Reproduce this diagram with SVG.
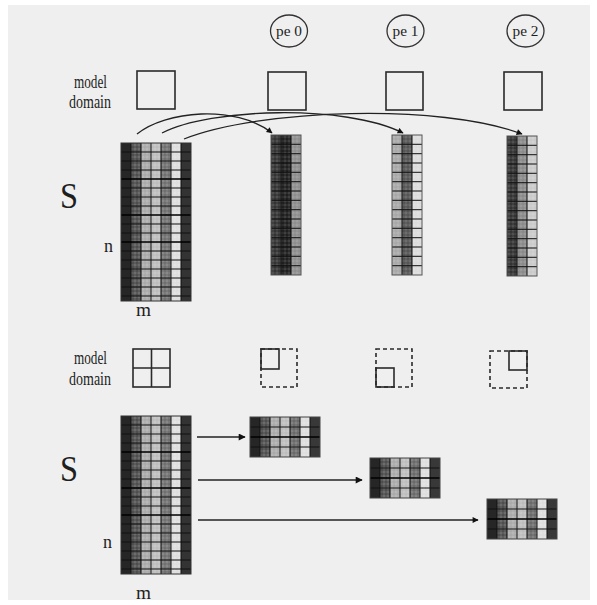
<svg xmlns="http://www.w3.org/2000/svg" xmlns:xlink="http://www.w3.org/1999/xlink" width="597" height="605" viewBox="0 0 597 605">
  <style>
    .lbl { font-family: "Liberation Serif", "Times New Roman", serif; fill: #1e1e1e; }
    .dom { fill: none; stroke: #2a2a2a; stroke-width: 1.6; }
    .dash { fill: none; stroke: #2a2a2a; stroke-width: 1.6; stroke-dasharray: 4 3; }
    .pe { fill: none; stroke: #333; stroke-width: 1.3; }
    .grid { fill: none; stroke: #111; stroke-width: 1; }
    .gridb { fill: none; stroke: #000; stroke-width: 1.6; }
    .conn { fill: none; stroke: #222; stroke-width: 1.3; }
  </style>
  <defs>
    <marker id="ah" viewBox="0 0 10 10" refX="9" refY="5" markerWidth="7" markerHeight="6" orient="auto" markerUnits="userSpaceOnUse">
      <path d="M0,0 L10,5 L0,10 z" fill="#111"/>
    </marker>
    <marker id="ahb" viewBox="0 0 10 10" refX="9" refY="5" markerWidth="9" markerHeight="7" orient="auto" markerUnits="userSpaceOnUse">
      <path d="M0,0 L10,5 L0,10 z" fill="#111"/>
    </marker>
    <!-- halftone texture laid over the shaded cells -->
    <pattern id="dots" width="4" height="4" patternUnits="userSpaceOnUse">
      <circle cx="2" cy="2" r="1.1" fill="none" stroke="#fff" stroke-width="0.6"/>
    </pattern>
    <!-- full data matrix: 7 columns x 18 rows -->
    <g id="matrix">
      <rect x="0" y="0" width="10" height="158" fill="#262626"/>
      <rect x="10" y="0" width="10" height="158" fill="#4e4e4e"/>
      <rect x="20" y="0" width="10" height="158" fill="#aaaaaa"/>
      <rect x="30" y="0" width="10" height="158" fill="#bdbdbd"/>
      <rect x="40" y="0" width="10" height="158" fill="#707070"/>
      <rect x="50" y="0" width="10" height="158" fill="#dedede"/>
      <rect x="60" y="0" width="10" height="158" fill="#333333"/>
      <rect x="10" y="0" width="50" height="158" fill="url(#dots)" opacity="0.35"/>
      <path class="grid" d="M10,0v158M20,0v158M30,0v158M40,0v158M50,0v158M60,0v158"/>
      <path class="grid" d="M0,9h70M0,18h70M0,27h70M0,45h70M0,54h70M0,63h70M0,81h70M0,90h70M0,108h70M0,117h70M0,126h70M0,135h70M0,144h70M0,153h70"/>
      <path class="gridb" d="M0,36h70M0,72h70M0,99h70"/>
      <rect x="0" y="0" width="70" height="158" fill="none" stroke="#333" stroke-width="1"/>
    </g>
    <!-- one row block of the matrix: 7 columns x 4 rows -->
    <g id="block">
      <rect x="0" y="0" width="10" height="40" fill="#262626"/>
      <rect x="10" y="0" width="10" height="40" fill="#4e4e4e"/>
      <rect x="20" y="0" width="10" height="40" fill="#aaaaaa"/>
      <rect x="30" y="0" width="10" height="40" fill="#bdbdbd"/>
      <rect x="40" y="0" width="10" height="40" fill="#6a6a6a"/>
      <rect x="50" y="0" width="10" height="40" fill="#dedede"/>
      <rect x="60" y="0" width="10" height="40" fill="#383838"/>
      <rect x="10" y="0" width="50" height="40" fill="url(#dots)" opacity="0.35"/>
      <path class="grid" d="M10,0v40M20,0v40M30,0v40M40,0v40M50,0v40M60,0v40M0,10h70M0,30h70"/>
      <path class="gridb" d="M0,20h70"/>
      <rect x="0" y="0" width="70" height="40" fill="none" stroke="#444" stroke-width="1"/>
    </g>
    <!-- grid overlay for a strip of three columns x 15 rows -->
    <g id="stripgrid">
      <rect x="0" y="0" width="30" height="140" fill="url(#dots)" opacity="0.3"/>
      <path class="grid" d="M10,0v140M20,0v140"/>
      <path class="grid" d="M0,9.3h30M0,18.7h30M0,28h30M0,37.3h30M0,46.7h30M0,56h30M0,65.3h30M0,74.7h30M0,84h30M0,93.3h30M0,102.7h30M0,112h30M0,121.3h30M0,130.7h30"/>
      <rect x="0" y="0" width="30" height="140" fill="none" stroke="#555" stroke-width="1"/>
    </g>
  </defs>

  <!-- paper -->
  <rect x="0" y="0" width="597" height="605" fill="#ffffff"/>
  <rect x="8" y="5" width="582" height="595" fill="#efefef"/>

  <!-- processor labels -->
  <g id="pe0">
    <ellipse class="pe" cx="289" cy="31" rx="18.5" ry="16"/>
    <text class="lbl" x="289" y="36" font-size="15" text-anchor="middle" textLength="26" lengthAdjust="spacingAndGlyphs">pe 0</text>
  </g>
  <g id="pe1">
    <ellipse class="pe" cx="405.5" cy="31" rx="18.5" ry="16"/>
    <text class="lbl" x="405.5" y="36" font-size="15" text-anchor="middle" textLength="26" lengthAdjust="spacingAndGlyphs">pe 1</text>
  </g>
  <g id="pe2">
    <ellipse class="pe" cx="525.5" cy="31" rx="18.5" ry="16"/>
    <text class="lbl" x="525.5" y="36" font-size="15" text-anchor="middle" textLength="26" lengthAdjust="spacingAndGlyphs">pe 2</text>
  </g>

  <!-- upper panel: column decomposition -->
  <g id="top-labels">
    <text class="lbl" x="74" y="88" font-size="19" textLength="33" lengthAdjust="spacingAndGlyphs">model</text>
    <text class="lbl" x="69" y="108" font-size="19" textLength="42" lengthAdjust="spacingAndGlyphs">domain</text>
    <text class="lbl" x="60" y="208" font-size="36" textLength="18" lengthAdjust="spacingAndGlyphs">S</text>
    <text class="lbl" x="104" y="252" font-size="18" textLength="9" lengthAdjust="spacingAndGlyphs">n</text>
    <text class="lbl" x="136" y="316" font-size="18" textLength="15" lengthAdjust="spacingAndGlyphs">m</text>
  </g>
  <g id="top-domain"><rect class="dom" x="137" y="71" width="38" height="38"/></g>
  <g id="top-domain-pe0"><rect class="dom" x="268" y="72" width="38" height="38"/></g>
  <g id="top-domain-pe1"><rect class="dom" x="386" y="72" width="37" height="38"/></g>
  <g id="top-domain-pe2"><rect class="dom" x="504" y="72" width="38" height="38"/></g>

  <g id="top-matrix"><use xlink:href="#matrix" x="121" y="143"/></g>

  <g id="strip-pe0">
    <rect x="271" y="135" width="10" height="140" fill="#333"/>
    <rect x="281" y="135" width="10" height="140" fill="#1f1f1f"/>
    <rect x="291" y="135" width="10" height="140" fill="#8e8e8e"/>
    <use xlink:href="#stripgrid" x="271" y="135"/>
  </g>
  <g id="strip-pe1">
    <rect x="392" y="135" width="10" height="140" fill="#a8a8a8"/>
    <rect x="402" y="135" width="10" height="140" fill="#555"/>
    <rect x="412" y="135" width="10" height="140" fill="#dcdcdc"/>
    <use xlink:href="#stripgrid" x="392" y="135"/>
  </g>
  <g id="strip-pe2">
    <rect x="507" y="136" width="10" height="140" fill="#333"/>
    <rect x="517" y="136" width="10" height="140" fill="#8a8a8a"/>
    <rect x="527" y="136" width="10" height="140" fill="#cacaca"/>
    <use xlink:href="#stripgrid" x="507" y="136"/>
  </g>

  <!-- lower panel: row decomposition -->
  <g id="bottom-labels">
    <text class="lbl" x="74" y="364" font-size="19" textLength="33" lengthAdjust="spacingAndGlyphs">model</text>
    <text class="lbl" x="69" y="385" font-size="19" textLength="42" lengthAdjust="spacingAndGlyphs">domain</text>
    <text class="lbl" x="60" y="481" font-size="36" textLength="18" lengthAdjust="spacingAndGlyphs">S</text>
    <text class="lbl" x="103" y="548" font-size="18" textLength="9" lengthAdjust="spacingAndGlyphs">n</text>
    <text class="lbl" x="136" y="599" font-size="18" textLength="15" lengthAdjust="spacingAndGlyphs">m</text>
  </g>
  <g id="bottom-domain">
    <rect class="dom" x="133" y="349" width="37" height="38" stroke-width="2"/>
    <path class="dom" d="M151.5,349v38M133,368h37" stroke-width="1.6"/>
  </g>
  <g id="bottom-domain-pe0">
    <rect class="dash" x="261" y="349" width="36" height="38"/>
    <rect class="dom" x="261" y="349" width="18" height="20" stroke-width="1.3"/>
  </g>
  <g id="bottom-domain-pe1">
    <rect class="dash" x="376" y="349" width="36" height="38"/>
    <rect class="dom" x="376" y="368" width="18" height="19" stroke-width="1.3"/>
  </g>
  <g id="bottom-domain-pe2">
    <rect class="dash" x="490" y="351" width="37" height="37"/>
    <rect class="dom" x="509" y="351" width="18" height="19" stroke-width="1.3"/>
  </g>

  <g id="bottom-matrix"><use xlink:href="#matrix" x="121" y="416"/></g>
  <g id="block-pe0"><use xlink:href="#block" x="250" y="417"/></g>
  <g id="block-pe1"><use xlink:href="#block" x="370" y="458"/></g>
  <g id="block-pe2"><use xlink:href="#block" x="487" y="499"/></g>

  <!-- connectors -->
  <g id="connectors">
    <path class="conn" d="M137,134 C165,111 235,104 272,133" marker-end="url(#ah)"/>
    <path class="conn" d="M162,133 C210,108 345,104 403,133" marker-end="url(#ah)"/>
    <path class="conn" d="M184,139 C260,109 440,103 522,134" marker-end="url(#ah)"/>
    <path class="conn" d="M197,437 H245" stroke-width="1.5" marker-end="url(#ahb)"/>
    <path class="conn" d="M198,480 H362" stroke-width="2.2" marker-end="url(#ahb)"/>
    <path class="conn" d="M198,520 H478" stroke-width="1" marker-end="url(#ah)"/>
  </g>
</svg>
